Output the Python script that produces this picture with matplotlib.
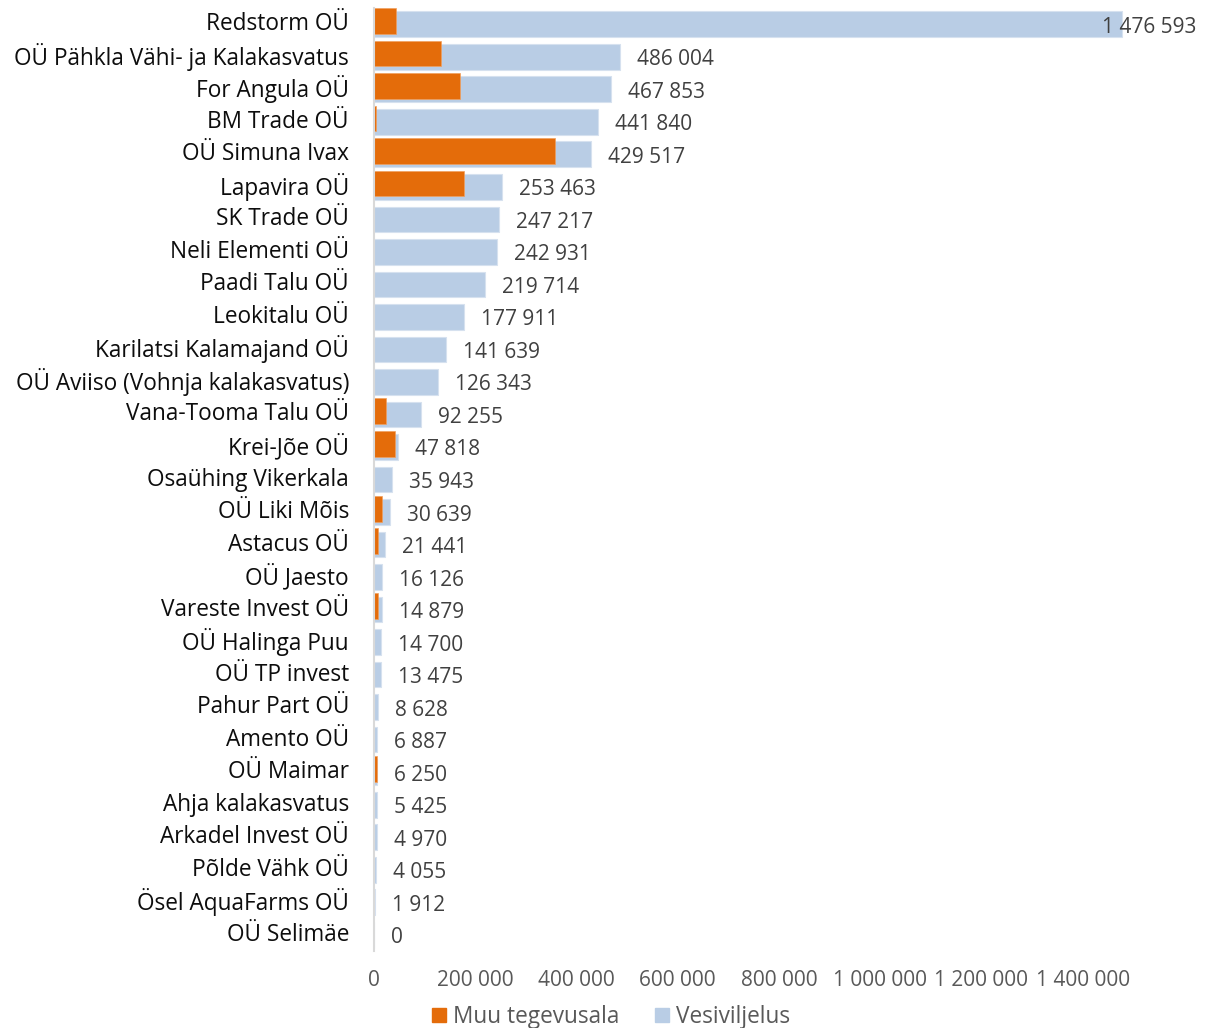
import numpy as np
import matplotlib
matplotlib.use("Agg")
import matplotlib.pyplot as plt
from matplotlib.patches import Patch

# ==== DATA ====
ettevotted = [
    "Redstorm OÜ", "OÜ Pähkla Vähi- ja Kalakasvatus", "For Angula OÜ", "BM Trade OÜ",
    "OÜ Simuna Ivax", "Lapavira OÜ", "SK Trade OÜ", "Neli Elementi OÜ", "Paadi Talu OÜ",
    "Leokitalu OÜ", "Karilatsi Kalamajand OÜ", "OÜ Aviiso (Vohnja kalakasvatus)",
    "Vana-Tooma Talu OÜ", "Krei-Jõe OÜ", "Osaühing Vikerkala", "OÜ Liki Mõis",
    "Astacus OÜ", "OÜ Jaesto", "Vareste Invest OÜ", "OÜ Halinga Puu", "OÜ TP invest",
    "Pahur Part OÜ", "Amento OÜ", "OÜ Maimar", "Ahja kalakasvatus", "Arkadel Invest OÜ",
    "Põlde Vähk OÜ", "Ösel AquaFarms OÜ", "OÜ Selimäe",
]
vesiviljelus = [
    1476593, 486004, 467853, 441840, 429517, 253463, 247217, 242931, 219714,
    177911, 141639, 126343, 92255, 47818, 35943, 30639, 21441, 16126, 14879,
    14700, 13475, 8628, 6887, 6250, 5425, 4970, 4055, 1912, 0,
]
# hinnatud jooniselt
muu_tegevusala = [
    43000, 132000, 170000, 3000, 357000, 177000, 0, 0, 0,
    0, 0, 0, 24000, 42000, 0, 16000, 8000, 0, 8500,
    0, 0, 0, 0, 6000, 0, 0, 0, 0, 0,
]
tick_vaartused = [0, 200000, 400000, 600000, 800000, 1000000, 1200000, 1400000]

SININE = "#B9CDE5"
ORANZ = "#E46C0A"


def tuhanded(v):
    return f"{v:,}".replace(",", " ")


plt.rcParams['font.family'] = ['Open Sans', 'DejaVu Sans']

fig = plt.figure(figsize=(12.06, 10.28), dpi=100)
ax = fig.add_axes([374 / 1206, 1 - 951 / 1028, (1184 - 374) / 1206, (951 - 8) / 1028])

y = np.arange(len(ettevotted))
ax.barh(y, vesiviljelus, height=0.79, color=SININE, edgecolor="#D6E1EF", linewidth=0.8)
ax.barh(y - 0.1, muu_tegevusala, height=0.79, color=ORANZ, edgecolor="#F0A060", linewidth=0.5)

ax.set_xlim(0, 1600000)
ax.set_ylim(len(ettevotted) - 0.5, -0.5)

# väärtuste sildid
for i, v in enumerate(vesiviljelus):
    if v > 1400000:
        ax.annotate(tuhanded(v), (v, i), xytext=(75, -3), textcoords="offset pixels",
                    ha="right", va="center", fontsize=15, color="#404040")
    else:
        ax.annotate(tuhanded(v), (v, i), xytext=(17, -3), textcoords="offset pixels",
                    ha="left", va="center", fontsize=15, color="#404040")

ax.set_yticks(y)
ax.set_yticklabels(ettevotted, fontsize=16.3, color="#0d0d0d", va="center")
ax.set_xticks(tick_vaartused)
ax.set_xticklabels([tuhanded(t) for t in tick_vaartused], fontsize=15, color="#595959")
ax.tick_params(axis="both", length=0)
ax.tick_params(axis="y", pad=18)
ax.tick_params(axis="x", pad=14)

for s in ["top", "right", "bottom"]:
    ax.spines[s].set_visible(False)
ax.spines["left"].set_color("#D9D9D9")
ax.spines["left"].set_linewidth(1.5)

kasitsejad = [Patch(color=ORANZ, label="Muu tegevusala"), Patch(color=SININE, label="Vesiviljelus")]
fig.legend(handles=kasitsejad, loc="lower center", bbox_to_anchor=(611 / 1206, -0.021), ncol=2,
           frameon=False, fontsize=16.3, handlelength=0.6, handleheight=0.6,
           handletextpad=0.3, columnspacing=1.6, labelcolor="#595959")

plt.savefig("out.png", dpi=100)
